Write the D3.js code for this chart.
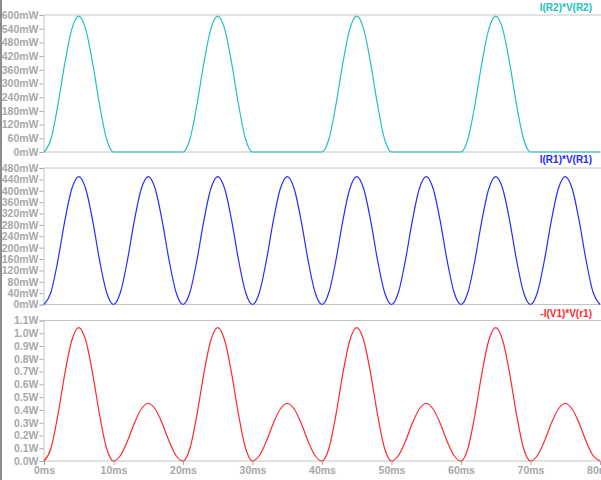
<!DOCTYPE html>
<html><head><meta charset="utf-8">
<script src="https://cdn.jsdelivr.net/npm/d3@7"></script>
<style>
body{margin:0;background:#fff;}
svg{display:block;}
text{font-family:"Liberation Sans",Arial,sans-serif;font-weight:bold;}
</style></head>
<body><svg id="c" width="601" height="480"></svg>
<script>
// time in ms, sampled every 1 ms
const timeMs = [0,1,2,3,4,5,6,7,8,9,10,11,12,13,14,15,16,17,18,19,20,21,22,23,24,25,26,27,28,29,30,31,32,33,34,35,36,37,38,39,40,41,42,43,44,45,46,47,48,49,50,51,52,53,54,55,56,57,58,59,60,61,62,63,64,65,66,67,68,69,70,71,72,73,74,75,76,77,78,79,80];
// I(R2)*V(R2) in mW
const pR2 = [0,57,206,389,538,595,538,389,206,57, 0,0,0,0,0,0,0,0,0,0,
             0,57,206,389,538,595,538,389,206,57, 0,0,0,0,0,0,0,0,0,0,
             0,57,206,389,538,595,538,389,206,57, 0,0,0,0,0,0,0,0,0,0,
             0,57,206,389,538,595,538,389,206,57, 0,0,0,0,0,0,0,0,0,0, 0];
// I(R1)*V(R1) in mW
const pR1 = [0,43,155,295,407,450,407,295,155,43, 0,43,155,295,407,450,407,295,155,43,
             0,43,155,295,407,450,407,295,155,43, 0,43,155,295,407,450,407,295,155,43,
             0,43,155,295,407,450,407,295,155,43, 0,43,155,295,407,450,407,295,155,43,
             0,43,155,295,407,450,407,295,155,43, 0,43,155,295,407,450,407,295,155,43, 0];
// -I(V1)*V(r1) in W
const pV1 = [0,0.100,0.361,0.684,0.945,1.045,0.945,0.684,0.361,0.100, 0,0.043,0.155,0.295,0.407,0.450,0.407,0.295,0.155,0.043,
             0,0.100,0.361,0.684,0.945,1.045,0.945,0.684,0.361,0.100, 0,0.043,0.155,0.295,0.407,0.450,0.407,0.295,0.155,0.043,
             0,0.100,0.361,0.684,0.945,1.045,0.945,0.684,0.361,0.100, 0,0.043,0.155,0.295,0.407,0.450,0.407,0.295,0.155,0.043,
             0,0.100,0.361,0.684,0.945,1.045,0.945,0.684,0.361,0.100, 0,0.043,0.155,0.295,0.407,0.450,0.407,0.295,0.155,0.043, 0];

const xTicks = [0,10,20,30,40,50,60,70,80];
const ticksR2 = [0,60,120,180,240,300,360,420,480,540,600];
const ticksR1 = [0,40,80,120,160,200,240,280,320,360,400,440,480];
const ticksV1 = [0,0.1,0.2,0.3,0.4,0.5,0.6,0.7,0.8,0.9,1.0,1.1];

const svg = d3.select("#c");
const axisCol = "#c4c4c4", labCol = "#a8a8a8";
const x = d3.scaleLinear().domain([0,80]).range([44,600]);

svg.append("rect").attr("x",0).attr("y",0).attr("width",2).attr("height",480).attr("fill","#8c8c8c");

const panels = [
  {vals:pR2, ticks:ticksR2, dom:[0,600], top:15, bot:152, col:"#22c0c0", title:"I(R2)*V(R2)", tb:11, fmt:d=>d+"mW"},
  {vals:pR1, ticks:ticksR1, dom:[0,480], top:168, bot:304.5, col:"#2a2aff", title:"I(R1)*V(R1)", tb:163, fmt:d=>d+"mW"},
  {vals:pV1, ticks:ticksV1, dom:[0,1.1], top:320.5, bot:461, col:"#ff2a2a", title:"-I(V1)*V(r1)", tb:317, fmt:d=>d3.format(".1f")(d)+"W"}
];

panels.forEach((p,i)=>{
  const y = d3.scaleLinear().domain(p.dom).range([p.bot,p.top]);
  const g = svg.append("g");
  // frame
  g.append("line").attr("x1",43).attr("x2",601).attr("y1",p.top).attr("y2",p.top).attr("stroke",axisCol);
  g.append("line").attr("x1",43).attr("x2",601).attr("y1",p.bot).attr("y2",p.bot).attr("stroke",axisCol);
  // y axis
  const ya = d3.axisLeft(y).tickValues(p.ticks).tickFormat(p.fmt).tickSize(4).tickPadding(1);
  const ag = g.append("g").attr("transform","translate(43.5,0)").call(ya);
  ag.select(".domain").attr("stroke",axisCol);
  ag.selectAll(".tick line").attr("stroke",labCol);
  ag.selectAll("text").attr("fill",labCol).style("font-size","10.5px").style("font-family","'Liberation Sans',Arial,sans-serif").style("font-weight","bold");
  // line
  const line = d3.line().x((d,j)=>x(timeMs[j])).y(d=>y(d)).curve(d3.curveMonotoneX);
  g.append("path").datum(p.vals).attr("d",line).attr("fill","none").attr("stroke",p.col).attr("stroke-width",1.2);
  // title
  g.append("text").attr("x",592).attr("y",p.tb).attr("text-anchor","end").attr("fill",p.col).style("font-size","10px").text(p.title);
});

// x axis on bottom panel
const xa = d3.axisBottom(x).tickValues(xTicks).tickFormat(d=>d+"ms").tickSize(4).tickPadding(2);
const xg = svg.append("g").attr("transform","translate(0,461)").call(xa);
xg.select(".domain").remove();
xg.selectAll(".tick line").attr("stroke",labCol);
xg.selectAll("text").attr("fill",labCol).style("font-size","10.5px").style("font-family","'Liberation Sans',Arial,sans-serif").style("font-weight","bold");
</script></body></html>
